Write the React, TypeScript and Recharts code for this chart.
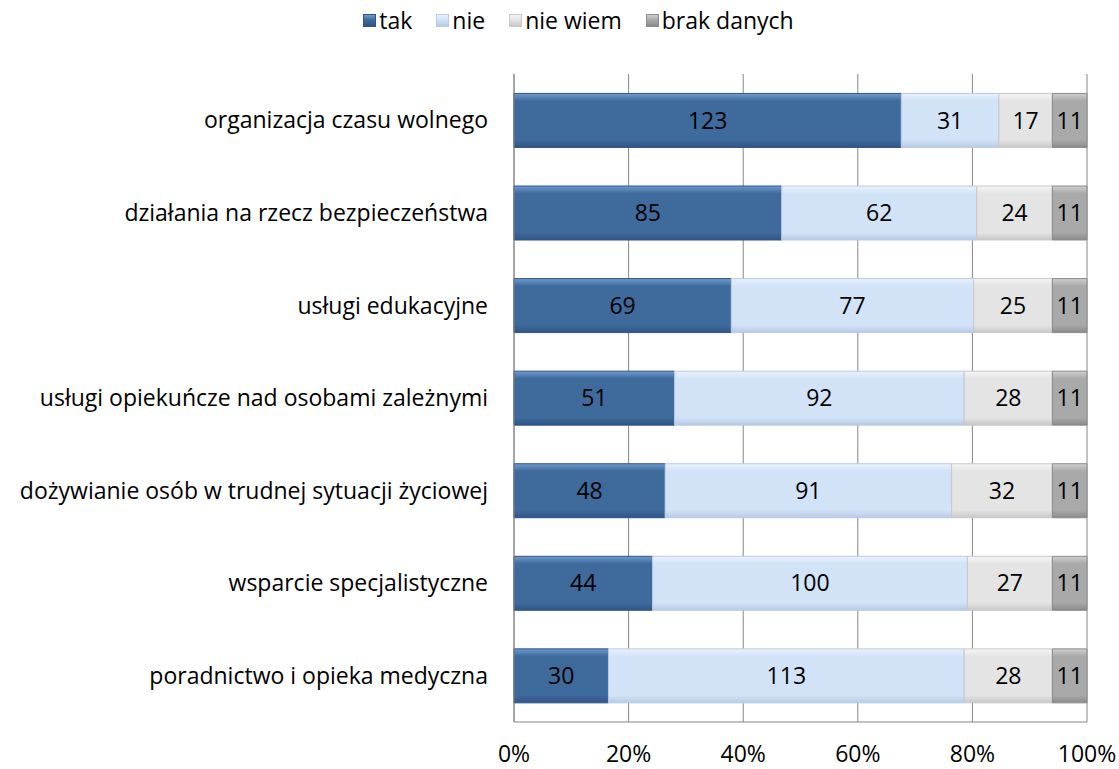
import { Bar, BarChart, CartesianGrid, LabelList, XAxis, YAxis } from "recharts";

const categories = [
  "organizacja czasu wolnego",
  "działania na rzecz bezpieczeństwa",
  "usługi edukacyjne",
  "usługi opiekuńcze nad osobami zależnymi",
  "dożywianie osób w trudnej sytuacji życiowej",
  "wsparcie specjalistyczne",
  "poradnictwo i opieka medyczna",
];
const tak = [123, 85, 69, 51, 48, 44, 30];
const nie = [31, 62, 77, 92, 91, 100, 113];
const nieWiem = [17, 24, 25, 28, 32, 27, 28];
const brakDanych = [11, 11, 11, 11, 11, 11, 11];
const xTicks = [0, 0.2, 0.4, 0.6, 0.8, 1];

const data = categories.map((name, i) => ({
  name,
  tak: tak[i],
  nie: nie[i],
  nieWiem: nieWiem[i],
  brakDanych: brakDanych[i],
}));

const series = [
  { key: "tak", label: "tak", base: "#3f6a9c", light: "#6f9bd0", dark: "#2f5585" },
  { key: "nie", label: "nie", base: "#d2e2f7", light: "#eaf2fd", dark: "#b8cbe4" },
  { key: "nieWiem", label: "nie wiem", base: "#e4e4e4", light: "#f5f5f5", dark: "#c8c8c8" },
  { key: "brakDanych", label: "brak danych", base: "#a9a9a9", light: "#cfcfcf", dark: "#8a8a8a" },
];

const font = "'Open Sans', 'Noto Sans', sans-serif";
const fontSize = 23;

function LegendRow() {
  return (
    <div
      style={{
        position: "absolute",
        top: 4,
        left: 0,
        width: 1119,
        display: "flex",
        justifyContent: "center",
        gap: 24,
        fontFamily: font,
        fontSize: 23,
        color: "#000",
        paddingLeft: 38,
        boxSizing: "border-box",
      }}
    >
      {series.map((s) => (
        <div key={s.key} style={{ display: "flex", alignItems: "center", gap: 3 }}>
          <span
            style={{
              display: "inline-block",
              width: 13,
              height: 13,
              background: `linear-gradient(${s.light}, ${s.base} 45%, ${s.dark})`,
              border: `1px solid ${s.dark}`,
              boxSizing: "border-box",
            }}
          />
          <span>{s.label}</span>
        </div>
      ))}
    </div>
  );
}

export default function App() {
  return (
    <div style={{ position: "absolute", left: 0, top: 0, width: 1119, height: 769, background: "#fff" }}>
      <LegendRow />
      <BarChart
        width={1119}
        height={769}
        data={data}
        layout="vertical"
        stackOffset="expand"
        barCategoryGap="21%"
        margin={{ top: 74, right: 32, bottom: 15, left: 0 }}
      >
        <defs>
          {series.map((s) => (
            <linearGradient key={s.key} id={`g-${s.key}`} x1="0" y1="0" x2="0" y2="1">
              <stop offset="0%" stopColor={s.light} />
              <stop offset="14%" stopColor={s.base} />
              <stop offset="86%" stopColor={s.base} />
              <stop offset="100%" stopColor={s.dark} />
            </linearGradient>
          ))}
        </defs>
        <CartesianGrid horizontal={false} stroke="#868686" />
        <XAxis
          type="number"
          domain={[0, 1]}
          ticks={xTicks}
          tickFormatter={(v: number) => `${Math.round(v * 100)}%`}
          axisLine={{ stroke: "#868686" }}
          tickLine={false}
          tickMargin={18}
          tick={{ fill: "#000", fontSize, fontFamily: font }}
          height={32}
        />
        <YAxis
          type="category"
          dataKey="name"
          width={514}
          axisLine={{ stroke: "#868686" }}
          tickLine={false}
          tickMargin={20}
          tick={{ fill: "#000", fontSize, fontFamily: font }}
        />
        {series.map((s) => (
          <Bar
            key={s.key}
            dataKey={s.key}
            stackId="a"
            fill={`url(#g-${s.key})`}
            stroke={s.dark}
            strokeWidth={1}
            isAnimationActive={false}
          >
            <LabelList
              dataKey={s.key}
              position="center"
              fill="#000"
              style={{ fontSize, fontFamily: font }}
            />
          </Bar>
        ))}
      </BarChart>
    </div>
  );
}
